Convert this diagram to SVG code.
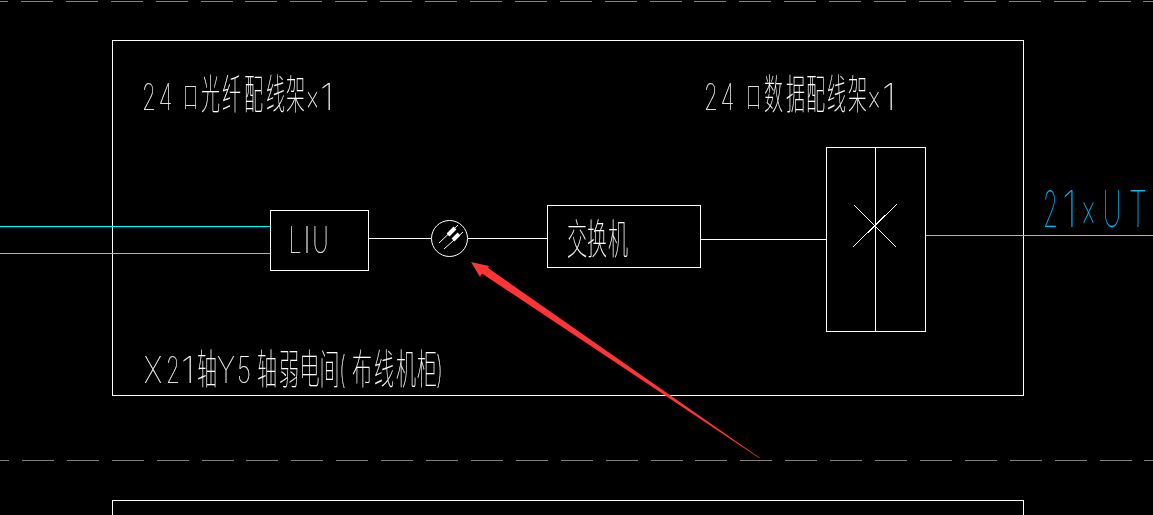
<svg xmlns="http://www.w3.org/2000/svg" width="1153" height="515" viewBox="0 0 1153 515">
<defs><filter id="n" x="0" y="0" width="1153" height="515" filterUnits="userSpaceOnUse" color-interpolation-filters="sRGB"><feOffset dx="0" dy="0"/></filter></defs>
<style>
.l{fill:none;stroke:#fff;stroke-width:1;shape-rendering:crispEdges}
.c{fill:none;stroke:#0ff;stroke-width:1;shape-rendering:crispEdges}
.d{fill:none;stroke:#808080;stroke-width:1;stroke-dasharray:32 12.9;shape-rendering:crispEdges}
text{font-family:"Inter","Noto Sans CJK SC",sans-serif;font-weight:100;fill:#fff;font-size:37px;stroke:#fff;stroke-width:.2px;filter:url(#n)}
tspan{font-size:37px}
.z{font-size:41px;stroke-width:.1px}
.k{font-size:29px}
.s{font-size:50px}
</style>
<rect width="1153" height="515" fill="#000"/>
<g id="dashes">
<path class="d" d="M-24 1.5H1153"/>
<path class="d" d="M-23 460.5H1153"/>
</g>
<g id="cabinet">
<rect class="l" x="112.5" y="40.5" width="911" height="355"/>
<text y="110"><tspan x="142" textLength="14" lengthAdjust="spacingAndGlyphs">2</tspan><tspan x="158.500" textLength="14" lengthAdjust="spacingAndGlyphs">4</tspan><tspan class="k" x="183" y="108" textLength="15" lengthAdjust="spacingAndGlyphs">口</tspan><tspan class="z" x="201" y="109" textLength="19" lengthAdjust="spacingAndGlyphs">光</tspan><tspan class="z" x="222" textLength="19" lengthAdjust="spacingAndGlyphs">纤</tspan><tspan class="z" x="244" textLength="19" lengthAdjust="spacingAndGlyphs">配</tspan><tspan class="z" x="266" textLength="19" lengthAdjust="spacingAndGlyphs">线</tspan><tspan class="z" x="286" textLength="19" lengthAdjust="spacingAndGlyphs">架</tspan><tspan x="305.500" y="110" textLength="14" lengthAdjust="spacingAndGlyphs">×</tspan><tspan x="320" textLength="14" lengthAdjust="spacingAndGlyphs">1</tspan></text>
<text y="110"><tspan x="704" textLength="14" lengthAdjust="spacingAndGlyphs">2</tspan><tspan x="720.500" textLength="14" lengthAdjust="spacingAndGlyphs">4</tspan><tspan class="k" x="746" y="108" textLength="15" lengthAdjust="spacingAndGlyphs">口</tspan><tspan class="z" x="764" y="109" textLength="19" lengthAdjust="spacingAndGlyphs">数</tspan><tspan class="z" x="786" textLength="19" lengthAdjust="spacingAndGlyphs">据</tspan><tspan class="z" x="806" textLength="19" lengthAdjust="spacingAndGlyphs">配</tspan><tspan class="z" x="827" textLength="19" lengthAdjust="spacingAndGlyphs">线</tspan><tspan class="z" x="848" textLength="19" lengthAdjust="spacingAndGlyphs">架</tspan><tspan x="867" y="110" textLength="14" lengthAdjust="spacingAndGlyphs">×</tspan><tspan x="882" textLength="14" lengthAdjust="spacingAndGlyphs">1</tspan></text>
<text y="383"><tspan x="144" textLength="18" lengthAdjust="spacingAndGlyphs">X</tspan><tspan x="166" textLength="14" lengthAdjust="spacingAndGlyphs">2</tspan><tspan x="181" textLength="14" lengthAdjust="spacingAndGlyphs">1</tspan><tspan class="z" x="197" y="384" textLength="20" lengthAdjust="spacingAndGlyphs">轴</tspan><tspan x="217" y="383" textLength="18" lengthAdjust="spacingAndGlyphs">Y</tspan><tspan x="237" textLength="14" lengthAdjust="spacingAndGlyphs">5</tspan><tspan class="z" x="257" y="384" textLength="20" lengthAdjust="spacingAndGlyphs">轴</tspan><tspan class="z" x="279" textLength="20" lengthAdjust="spacingAndGlyphs">弱</tspan><tspan class="z" x="299.500" textLength="20" lengthAdjust="spacingAndGlyphs">电</tspan><tspan class="z" x="319.500" textLength="20" lengthAdjust="spacingAndGlyphs">间</tspan><tspan x="339" y="383" textLength="7" lengthAdjust="spacingAndGlyphs">(</tspan><tspan class="z" x="352" y="384" textLength="20" lengthAdjust="spacingAndGlyphs">布</tspan><tspan class="z" x="374" textLength="20" lengthAdjust="spacingAndGlyphs">线</tspan><tspan class="z" x="396" textLength="20" lengthAdjust="spacingAndGlyphs">机</tspan><tspan class="z" x="417" textLength="20" lengthAdjust="spacingAndGlyphs">柜</tspan><tspan x="436" y="383" textLength="7" lengthAdjust="spacingAndGlyphs">)</tspan></text>
</g>
<g id="connectors">
<path class="c" d="M0 226.5H270M0 253.5H270"/>
<path class="l" d="M369 238.5H431M468 238.5H547M701 239.5H826"/>
<path class="c" d="M926 235.5H1153"/>
</g>
<g id="liu">
<rect class="l" x="270.5" y="210.5" width="98" height="60"/>
<text y="253"><tspan x="288.500" textLength="13" lengthAdjust="spacingAndGlyphs">L</tspan><tspan x="303" textLength="8" lengthAdjust="spacingAndGlyphs">I</tspan><tspan x="312.500" textLength="16" lengthAdjust="spacingAndGlyphs">U</tspan></text>
</g>
<g id="converter">
<circle cx="449.500" cy="238.500" r="18" fill="none" stroke="#fff" stroke-width="1"/>
<path d="M439 243L458 225M444 249L463 232" fill="none" stroke="#fff" stroke-width="1"/>
<path d="M448 235L455 228M453 240L459 234" fill="none" stroke="#fff" stroke-width="4"/>
</g>
<g id="switch">
<rect class="l" x="547.500" y="205.500" width="153" height="62"/>
<text y="254"><tspan class="z" x="567" textLength="20" lengthAdjust="spacingAndGlyphs">交</tspan><tspan class="z" x="587" textLength="20" lengthAdjust="spacingAndGlyphs">换</tspan><tspan class="z" x="608" textLength="20" lengthAdjust="spacingAndGlyphs">机</tspan></text>
</g>
<g id="patch-panel">
<rect class="l" x="826.500" y="147.500" width="99" height="184"/>
<path class="l" d="M875.500 147V331M854 205L896 247M897 204L853 247"/>
</g>
<g id="bottom-cabinet">
<path class="l" d="M112.500 515V500.500H1023.500V515"/>
</g>
<text id="cable-label" y="227" style="fill:#00bcff;stroke:#00bcff"><tspan class="s" x="1043" textLength="15" lengthAdjust="spacingAndGlyphs">2</tspan><tspan class="s" x="1062" textLength="15" lengthAdjust="spacingAndGlyphs">1</tspan><tspan class="s" x="1081" textLength="15" lengthAdjust="spacingAndGlyphs">×</tspan><tspan class="s" x="1102.500" textLength="19" lengthAdjust="spacingAndGlyphs">U</tspan><tspan class="s" x="1129" textLength="18" lengthAdjust="spacingAndGlyphs">T</tspan></text>
<polygon id="arrow" fill="#ff3535" points="471,262 489,266 488,268 760,458 759,458 482,273.500 480,277"/>
</svg>
